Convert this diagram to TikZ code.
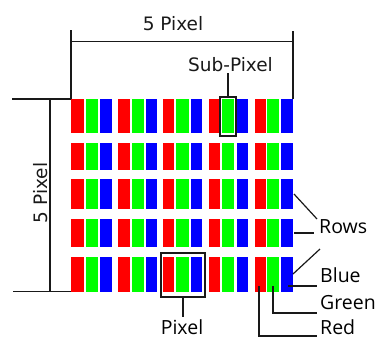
\documentclass[tikz,border=0pt]{standalone}
\usepackage{fontspec}
\setmainfont{DejaVu Sans}
\newfontfamily\lblfont{Open Sans}
\definecolor{sred}{RGB}{255,0,0}
\definecolor{sgreen}{RGB}{0,255,0}
\definecolor{sblue}{RGB}{0,0,255}
\definecolor{ink}{RGB}{25,25,25}
\begin{document}
\begin{tikzpicture}[x=1pt,y=-1pt,
  dimline/.style={draw=ink,line width=1.3pt},
  leader/.style={draw=ink,line width=1.2pt},
  markbox/.style={draw=ink,line width=1.6pt,inner sep=0pt,fill=none},
  dimtext/.style={font=\fontsize{18.5}{20}\selectfont,text=ink,inner sep=0pt},
  lbltext/.style={font=\lblfont\fontsize{19.5}{21}\selectfont,text=black,inner sep=0pt}]
\useasboundingbox (0,0) rectangle (376,338);
% sub-pixel grid
\foreach \ya/\yb in {99/133,143/170,179/209,219/247,257/292}{
  \foreach \xa/\xb/\c in {71/84/sred,86/98/sgreen,100/112/sblue,
                          118/130/sred,132/144/sgreen,146/157/sblue,
                          163/174/sred,176/189/sgreen,191/202/sblue,
                          209/220/sred,222/234/sgreen,237/248/sblue,
                          255/266/sred,267/279/sgreen,281/293/sblue}{
    \fill[\c] (\xa,\ya) rectangle (\xb,\yb);
  }
}
% top dimension
\coordinate (tl0) at (71,30);
\coordinate (tl1) at (71,99);
\coordinate (tr0) at (293,31);
\coordinate (tr1) at (293,99);
\coordinate (ta) at (71,41.7);
\coordinate (tb) at (293,41.7);
\draw[dimline] (tl0) -- (tl1);
\draw[dimline] (tr0) -- (tr1);
\draw[dimline] (ta) -- (tb);
\node[dimtext,anchor=base] (topdim) at (173,30) {5 Pixel};
% left dimension
\coordinate (lt0) at (12,99);
\coordinate (lt1) at (71,99);
\coordinate (lb0) at (13,291.5);
\coordinate (lb1) at (71,291.5);
\coordinate (la) at (50,99);
\coordinate (lb) at (50,291.5);
\draw[dimline] (lt0) -- (lt1);
\draw[dimline] (lb0) -- (lb1);
\draw[dimline] (la) -- (lb);
\node[dimtext,anchor=base,rotate=90] (leftdim) at (47.5,193) {5 Pixel};
% sub-pixel marker
\node[markbox,minimum width=16,minimum height=39] (subbox) at (228,116.5) {};
\node[dimtext,anchor=base] (sublbl) at (230.5,71) {Sub-Pixel};
\coordinate (subtop) at (228,73);
\draw[leader] (subtop) -- (subbox.north);
% pixel marker
\node[markbox,minimum width=44,minimum height=44] (pixbox) at (183,275) {};
\node[lbltext,anchor=base] (pixlbl) at (182,334.5) {Pixel};
\coordinate (pixend) at (183,317);
\draw[leader] (pixbox.south) -- (pixend);
% right labels
\node[lbltext,anchor=base west] (rows) at (319,233) {Rows};
\node[lbltext,anchor=base west] (blue) at (320,282) {Blue};
\node[lbltext,anchor=base west] (green) at (320,309) {Green};
\node[lbltext,anchor=base west] (red) at (320,334) {Red};
\coordinate (r3) at (294,194);
\coordinate (r3e) at (317,219);
\coordinate (r4) at (294,233);
\coordinate (r4e) at (314,233);
\coordinate (r5) at (293,274);
\coordinate (r5e) at (320,249);
\draw[leader] (r3) -- (r3e);
\draw[leader] (r4) -- (r4e);
\draw[leader] (r5) -- (r5e);
\coordinate (bs) at (288,286);
\coordinate (be) at (317,286);
\draw[leader] (bs) -- (be);
\coordinate (gs) at (273,286);
\coordinate (ge) at (317,313);
\draw[leader] (gs) |- (ge);
\coordinate (rs) at (259,286);
\coordinate (re) at (317,336);
\draw[leader] (rs) |- (re);
\end{tikzpicture}
\end{document}
